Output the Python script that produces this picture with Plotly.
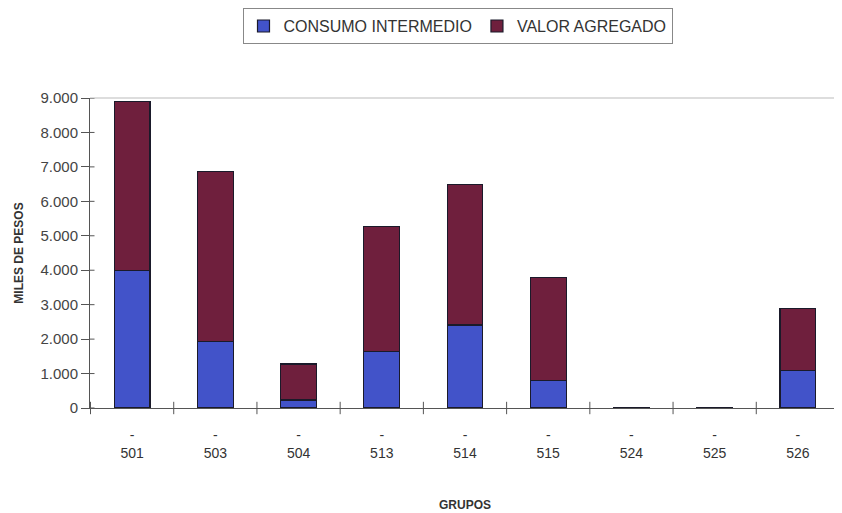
import plotly.graph_objects as go

grupos = ["501", "503", "504", "513", "514", "515", "524", "525", "526"]
consumo_intermedio = [4000, 1920, 230, 1630, 2410, 810, 5, 3, 1080]
valor_agregado = [4900, 4940, 1050, 3630, 4070, 2970, 20, 15, 1800]
tick_labels = ["-<br>" + g for g in grupos]
y_ticks = [0, 1000, 2000, 3000, 4000, 5000, 6000, 7000, 8000, 9000]
y_tick_text = ["0", "1.000", "2.000", "3.000", "4.000", "5.000", "6.000", "7.000", "8.000", "9.000"]

fig = go.Figure()
fig.add_trace(go.Bar(x=grupos, y=consumo_intermedio, name="CONSUMO INTERMEDIO",
                     marker=dict(color="#4253C9", line=dict(color="#1a1a2a", width=1.2))))
fig.add_trace(go.Bar(x=grupos, y=valor_agregado, name="VALOR AGREGADO",
                     marker=dict(color="#6F1F3D", line=dict(color="#1a1a2a", width=1.2))))

fig.update_layout(
    barmode="stack",
    bargap=0.57,
    width=834, height=505,
    margin=dict(l=82, r=2, t=90, b=105, autoexpand=False),
    paper_bgcolor="white", plot_bgcolor="white",
    font=dict(family="Liberation Sans, Arial, sans-serif", color="#333"),
    legend=dict(orientation="h", x=0.49, y=1.29, xanchor="center", yanchor="top",
                bordercolor="#888", borderwidth=1, font=dict(size=16, color="#333"),
                traceorder="normal", itemwidth=30, tracegroupgap=0,
                entrywidth=0),
    xaxis=dict(tickmode="array", tickvals=grupos, ticktext=tick_labels, automargin=False,
               showline=True, linecolor="#555", linewidth=1,
               ticks="outside", ticklen=14, tickcolor="rgba(0,0,0,0)",
               tickfont=dict(size=14, color="#333"),
               title=dict(text="<b>GRUPOS</b>", font=dict(size=12, color="#333"), standoff=40)),
    yaxis=dict(range=[0, 9000], tickmode="array", tickvals=y_ticks, ticktext=y_tick_text,
               automargin=False,
               showline=True, linecolor="#555", linewidth=1, ticks="outside", ticklen=8,
               tickcolor="#555", showgrid=False, zeroline=False,
               tickfont=dict(size=15, color="#444"),
               title=dict(text="<b>MILES DE PESOS</b>", font=dict(size=12, color="#333"), standoff=14)),
)
# top border of the plot area
fig.add_shape(type="line", xref="paper", yref="paper", x0=0, x1=1, y0=1, y1=1,
              line=dict(color="#bbb", width=1))
# y tick marks crossing the axis (inside part)
for v in y_ticks:
    fig.add_shape(type="line", xref="paper", yref="y", x0=0, x1=0.006, y0=v, y1=v,
                  line=dict(color="#555", width=1))
# x-axis separator ticks between categories
for i in range(len(grupos) + 1):
    fig.add_shape(type="line", xref="x", yref="paper", x0=i - 0.5, x1=i - 0.5,
                  y0=-0.02, y1=0.02, line=dict(color="#555", width=1))
fig.write_html("out.html")
